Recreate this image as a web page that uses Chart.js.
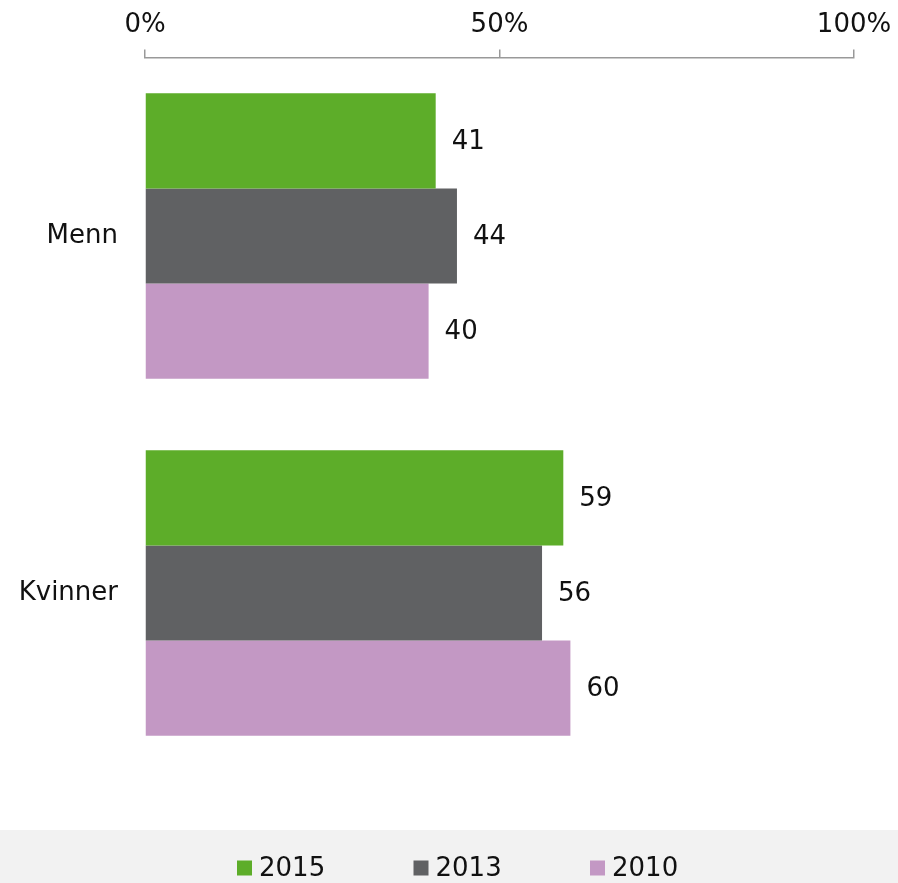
<!DOCTYPE html>
<html>
<head>
<meta charset="utf-8">
<style>
  html, body { margin: 0; padding: 0; background: #ffffff; }
  #wrap { width: 898px; height: 883px; }
</style>
<script src="https://cdn.jsdelivr.net/npm/chart.js@4/dist/chart.umd.min.js"></script>
</head>
<body>
<div id="wrap"><canvas id="c" width="898" height="883"></canvas></div>
<script>
const categories = ["Menn", "Kvinner"];
const seriesLabels = ["2015", "2013", "2010"];
const values2015 = [41, 59];
const values2013 = [44, 56];
const values2010 = [40, 60];
const tickValues = [0, 50, 100];
const colors = ["#5dad29", "#606163", "#c398c4"];

const FONT = "'DejaVu Sans', Verdana, sans-serif";
const FS = 26;

const bandPlugin = {
  id: 'band',
  beforeDraw(chart) {
    const ctx = chart.ctx;
    ctx.save();
    ctx.fillStyle = '#f2f2f2';
    ctx.fillRect(0, 830, chart.width, chart.height - 830);
    ctx.restore();
  }
};

const valueLabels = {
  id: 'valueLabels',
  afterDatasetsDraw(chart) {
    const ctx = chart.ctx;
    ctx.save();
    ctx.font = FS + 'px ' + FONT;
    ctx.fillStyle = '#111111';
    ctx.textAlign = 'left';
    ctx.textBaseline = 'middle';
    chart.data.datasets.forEach((ds, i) => {
      const meta = chart.getDatasetMeta(i);
      meta.data.forEach((el, j) => {
        ctx.fillText(String(ds.data[j]), el.x + 16, el.y + 1);
      });
    });
    ctx.restore();
  }
};

const customLegend = {
  id: 'customLegend',
  afterDraw(chart) {
    const ctx = chart.ctx;
    ctx.save();
    ctx.font = FS + 'px ' + FONT;
    ctx.textBaseline = 'middle';
    ctx.textAlign = 'left';
    const startX = 237, step = 176.5, cy = 868, box = 15;
    chart.data.datasets.forEach((ds, i) => {
      const x = startX + i * step;
      ctx.fillStyle = ds.backgroundColor;
      ctx.fillRect(x, cy - box / 2, box, box);
      ctx.fillStyle = '#111111';
      ctx.fillText(ds.label, x + box + 7, cy + 1);
    });
    ctx.restore();
  }
};

new Chart(document.getElementById('c'), {
  type: 'bar',
  data: {
    labels: categories,
    datasets: [
      { label: seriesLabels[0], data: values2015, backgroundColor: colors[0] },
      { label: seriesLabels[1], data: values2013, backgroundColor: colors[1] },
      { label: seriesLabels[2], data: values2010, backgroundColor: colors[2] }
    ]
  },
  options: {
    indexAxis: 'y',
    responsive: false,
    animation: false,
    devicePixelRatio: 1,
    layout: { padding: { left: 0, right: 44, top: 0, bottom: 111.5 } },
    datasets: { bar: { barPercentage: 1.0, categoryPercentage: 0.8, borderWidth: 0 } },
    plugins: {
      legend: { display: false },
      tooltip: { enabled: false }
    },
    scales: {
      x: {
        position: 'top',
        min: 0,
        max: 100,
        afterBuildTicks(scale) {
          scale.ticks = tickValues.map(v => ({ value: v }));
        },
        afterFit(scale) {
          scale.height = 57.5;
          scale.paddingRight = 0;
          scale.paddingLeft = 0;
        },
        ticks: {
          callback: v => v + '%',
          font: { family: FONT, size: FS },
          color: '#111111',
          padding: 9,
          maxRotation: 0
        },
        grid: {
          drawOnChartArea: false,
          drawTicks: true,
          tickLength: 8,
          color: '#999999',
          lineWidth: 1.5
        },
        border: { display: true, color: '#999999', width: 1.5 }
      },
      y: {
        afterFit(scale) { scale.width = 145; },
        ticks: {
          font: { family: FONT, size: FS },
          color: '#111111',
          padding: 27
        },
        grid: { display: false, drawTicks: false },
        border: { display: false }
      }
    }
  },
  plugins: [bandPlugin, valueLabels, customLegend]
});
</script>
</body>
</html>
